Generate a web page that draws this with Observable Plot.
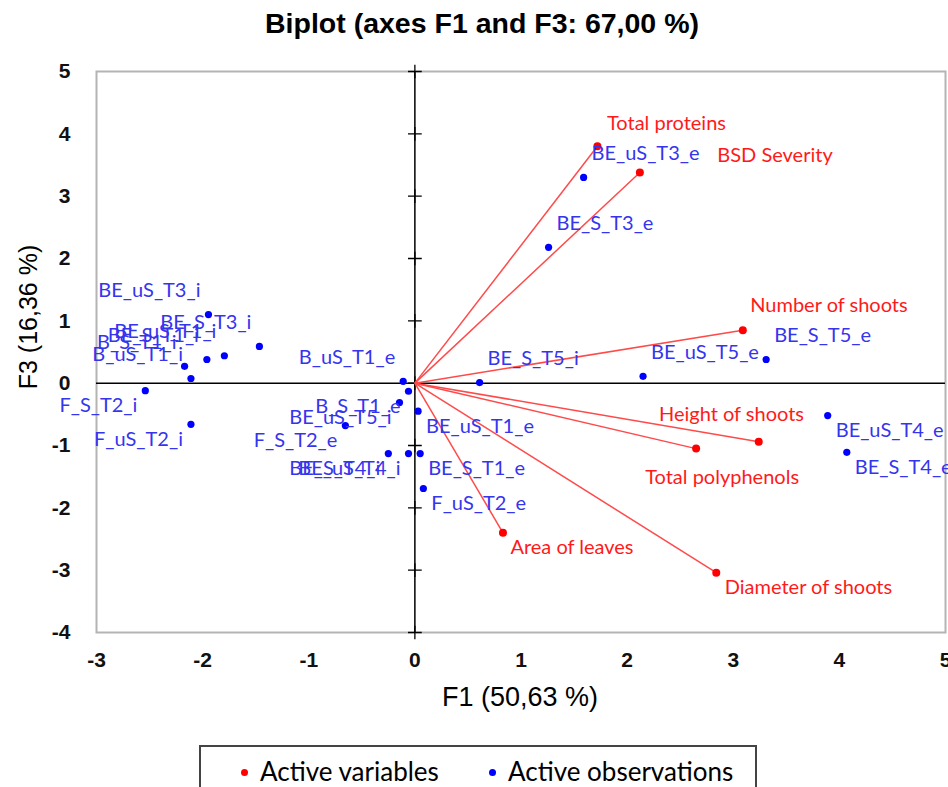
<!DOCTYPE html>
<html>
<head>
<meta charset="utf-8">
<script src="https://cdn.jsdelivr.net/npm/d3@7"></script>
<script src="https://cdn.jsdelivr.net/npm/@observablehq/plot@0.6"></script>
<style>
  html, body { margin: 0; padding: 0; background: #fff; }
  #wrap { position: relative; width: 948px; height: 787px; overflow: hidden; background: #fff; }
  #wrap svg { position: absolute; left: 0; top: 0; }
  .title { position: absolute; left: 0; top: 7px; width: 964px; text-align: center;
           font: bold 28.5px "Liberation Sans", Arial, sans-serif; color: #000; }
  .xlabel { position: absolute; left: 0; width: 1040px; top: 682px; text-align: center;
            font: 27px "Liberation Sans", Arial, sans-serif; color: #000; }
  .ylabel { position: absolute; left: 28px; top: 317px; transform: translate(-50%, -50%) rotate(-90deg);
            white-space: nowrap; font: 25px "Liberation Sans", Arial, sans-serif; color: #000; }
  .legend { position: absolute; left: 199px; top: 745px; width: 558px; height: 80px;
            border: 2px solid #444; box-sizing: border-box; }
  .legend span.item { position: absolute; top: 8px; font: 26px Lato, sans-serif; color: #000; white-space: nowrap; }
  .legend span.dot { display: inline-block; width: 7px; height: 7px; border-radius: 50%; vertical-align: middle; margin-right: 12px; position: relative; top: -2px; }
</style>
</head>
<body>
<div id="wrap">
  <div class="title">Biplot (axes F1 and F3: 67,00 %)</div>
  <div class="xlabel">F1 (50,63 %)</div>
  <div class="ylabel">F3 (16,36 %)</div>
  <div class="legend">
    <span class="item" style="left:40px"><span class="dot" style="background:#ff0000"></span>Active variables</span>
    <span class="item" style="left:288px"><span class="dot" style="background:#0000ff"></span>Active observations</span>
  </div>
</div>
<script>
// ---- Data ----
const xTicks = [-3, -2, -1, 0, 1, 2, 3, 4, 5];
const yTicks = [-4, -3, -2, -1, 0, 1, 2, 3, 4, 5];

// Active variables (F1, F3 coordinates)
const varNames = ["Total proteins", "BSD Severity", "Number of shoots", "Height of shoots",
                  "Total polyphenols", "Area of leaves", "Diameter of shoots"];
const varF1 = [1.72, 2.12, 3.09, 3.24, 2.65, 0.83, 2.84];
const varF3 = [3.80, 3.38, 0.85, -0.94, -1.05, -2.40, -3.04];
// Label anchor points (start of text) in F1/F3 units
const varLabelF1 = [1.81, 2.85, 3.16, 2.30, 2.17, 0.90, 2.92];
const varLabelF3 = [4.17, 3.65, 1.25, -0.50, -1.51, -2.64, -3.28];

// Active observations (F1, F3 coordinates)
const obsNames = ["BE_uS_T3_i", "BE_S_T3_i", "BE_uS_T1_i", "BE_S_T1_i", "B_S_T1_i", "B_uS_T1_i",
                  "F_S_T2_i", "F_uS_T2_i", "B_uS_T1_e", "BE_S_T5_i", "B_S_T1_e", "BE_uS_T5_i",
                  "BE_uS_T1_e", "F_S_T2_e", "BE_S_T4_i", "BE_uS_T4_i", "BE_S_T1_e", "F_uS_T2_e",
                  "BE_uS_T3_e", "BE_S_T3_e", "BE_S_T5_e", "BE_uS_T5_e", "BE_uS_T4_e", "BE_S_T4_e"];
const obsF1 = [-1.945, -1.465, -1.795, -1.96, -2.17, -2.11,
               -2.54, -2.11, -0.11, 0.61, -0.06, -0.145,
               0.03, -0.655, -0.25, -0.06, 0.05, 0.08,
               1.59, 1.26, 3.31, 2.15, 3.89, 4.07];
const obsF3 = [1.10, 0.59, 0.44, 0.38, 0.27, 0.075,
               -0.12, -0.66, 0.03, 0.01, -0.13, -0.31,
               -0.45, -0.68, -1.13, -1.13, -1.13, -1.69,
               3.30, 2.18, 0.38, 0.11, -0.52, -1.11];
// Label side relative to the point: n/s = above/below, e/w = right/left
const obsSide = ["nw", "nw", "nw", "nw", "nw", "nw",
                 "sw", "sw", "nw", "ne", "sw", "sw",
                 "se", "sw", "sw", "sw", "se", "se",
                 "ne", "ne", "ne", "ne", "se", "se"];

const vars = varNames.map((name, i) => ({name, x: varF1[i], y: varF3[i], lx: varLabelF1[i], ly: varLabelF3[i]}));
const obs = obsNames.map((name, i) => ({name, x: obsF1[i], y: obsF3[i], side: obsSide[i]}));

const labelFont = "Lato, sans-serif";
const labelSize = 20;
const obsLabelColor = "#3535ee";

const sideMark = (side) => Plot.text(obs.filter(d => d.side === side), {
  x: "x", y: "y", text: "name",
  textAnchor: side[1] === "e" ? "start" : "end",
  dx: side[1] === "e" ? 8 : -8,
  dy: side[0] === "n" ? -24 : 15,
  fill: obsLabelColor, fontFamily: labelFont, fontSize: labelSize
});

const fmt = d => String(d);

const chart = Plot.plot({
  width: 948,
  height: 787,
  marginTop: 71,
  marginBottom: 155,
  marginLeft: 96,
  marginRight: 3,
  style: {background: "transparent", fontFamily: "'Liberation Sans', Arial, sans-serif"},
  x: {domain: [-3, 5], ticks: xTicks},
  y: {domain: [-4, 5], ticks: yTicks},
  marks: [
    Plot.frame({stroke: "#b4b4b4", strokeWidth: 2}),
    Plot.ruleX([0], {stroke: "#000", strokeWidth: 1.5}),
    Plot.ruleY([0], {stroke: "#000", strokeWidth: 1.5}),
    Plot.dot(yTicks, {x: () => 0, y: d => d, symbol: "plus", r: 4.5, stroke: "#000", strokeWidth: 1.3}),
    Plot.link(vars, {x1: () => 0, y1: () => 0, x2: "x", y2: "y", stroke: "#ff4a4a", strokeWidth: 1.5}),
    Plot.dot(obs, {x: "x", y: "y", r: 3.6, fill: "#0000ff"}),
    Plot.dot(vars, {x: "x", y: "y", r: 4, fill: "#ff0000"}),
    sideMark("nw"), sideMark("ne"), sideMark("sw"), sideMark("se"),
    Plot.text(vars, {x: "lx", y: "ly", text: "name", textAnchor: "start",
                     fill: "#ff1a1a", fontFamily: labelFont, fontSize: labelSize}),
    Plot.axisX(xTicks, {tickSize: 0, tickPadding: 20, fontSize: 21, fontWeight: "bold", fill: "#111", label: null, tickFormat: fmt}),
    Plot.axisY(yTicks, {tickSize: 0, tickPadding: 26, fontSize: 21, fontWeight: "bold", fill: "#111", label: null, tickFormat: fmt})
  ]
});
document.getElementById("wrap").prepend(chart);
</script>
</body>
</html>
